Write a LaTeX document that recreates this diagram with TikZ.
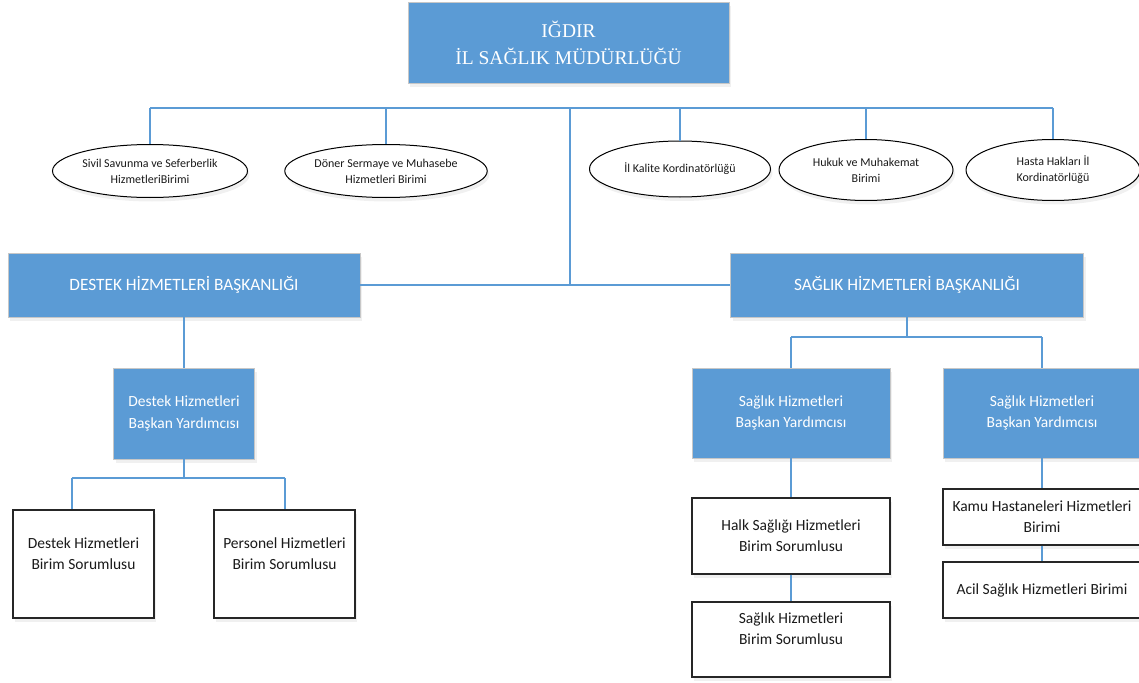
\documentclass[tikz,border=0pt]{standalone}
\usepackage{fontspec}
\setmainfont{Carlito}
\newfontfamily\tnr{Liberation Serif}
\usetikzlibrary{shapes.geometric,shadows}
\definecolor{boxblue}{HTML}{5B9BD5}
\definecolor{linkblue}{HTML}{5B9BD5}
\definecolor{txt}{HTML}{1A1A1A}
\begin{document}
\begin{tikzpicture}[x=1pt,y=-1pt,
  shade/.style={drop shadow={opacity=0.12, shadow xshift=2pt, shadow yshift=-4pt}},
  bluebox/.style={draw=black!22, line width=0.8pt, fill=boxblue, text=white, align=center, inner sep=0pt, shade},
  whitebox/.style={draw=black!85, line width=1.1pt, fill=white, text=txt, align=center, inner sep=0pt, shade,
    font=\fontsize{15.5}{21}\selectfont},
  oval/.style={ellipse, draw=black, line width=1pt, fill=white, text=txt, align=center, inner sep=0pt, shade,
    font=\fontsize{12}{16}\selectfont},
  link/.style={draw=linkblue, line width=1.7pt}
]
\useasboundingbox (0,0) rectangle (1139,682);

% top
\node[bluebox, minimum width=321pt, minimum height=81pt, font=\tnr\fontsize{19.5}{27}\selectfont]
  (top) at (568.5,42.5) {IĞDIR\\İL SAĞLIK MÜDÜRLÜĞÜ};

% ellipses
\node[oval, minimum width=195pt, minimum height=53pt] (e1) at (150,171) {Sivil Savunma ve Seferberlik\\HizmetleriBirimi};
\node[oval, minimum width=197pt, minimum height=53pt] (e2) at (386,171) {Döner Sermaye ve Muhasebe\\Hizmetleri Birimi};
\node[oval, minimum width=181pt, minimum height=56pt] (e3) at (680,169) {İl Kalite Kordinatörlüğü};
\node[oval, minimum width=174pt, minimum height=61pt] (e4) at (866,170) {Hukuk ve Muhakemat\\Birimi};
\node[oval, minimum width=174pt, minimum height=61pt] (e5) at (1053,170) {Hasta Hakları İl\\Kordinatörlüğü};

% departments
\node[bluebox, minimum width=352pt, minimum height=64pt, font=\fontsize{17.3}{20}\selectfont]
  (destek) at (184,285) {DESTEK HİZMETLERİ BAŞKANLIĞI};
\node[bluebox, minimum width=353pt, minimum height=64pt, font=\fontsize{17.3}{20}\selectfont]
  (saglik) at (907,285) {SAĞLIK HİZMETLERİ BAŞKANLIĞI};

% deputies
\node[bluebox, minimum width=141pt, minimum height=91pt, font=\fontsize{15.5}{21.5}\selectfont]
  (dyrd) at (184,413.5) {Destek Hizmetleri\\Başkan Yardımcısı};
\node[bluebox, minimum width=198pt, minimum height=90pt, font=\fontsize{15.5}{21.5}\selectfont]
  (syrd1) at (791,413) {Sağlık Hizmetleri\\Başkan Yardımcısı};
\node[bluebox, minimum width=198pt, minimum height=90pt, font=\fontsize{15.5}{21.5}\selectfont]
  (syrd2) at (1042,413) {Sağlık Hizmetleri\\Başkan Yardımcısı};

% units
\node[whitebox, minimum width=141pt, minimum height=108pt] (d1) at (83.5,564) {Destek Hizmetleri\\Birim Sorumlusu\\[0pt]~};
\node[whitebox, minimum width=141pt, minimum height=108pt] (p1) at (284.5,564) {Personel Hizmetleri\\Birim Sorumlusu\\[0pt]~};
\node[whitebox, minimum width=198pt, minimum height=76pt] (halk) at (791,536) {Halk Sağlığı Hizmetleri\\Birim Sorumlusu};
\node[whitebox, minimum width=198pt, minimum height=75pt] (sbs) at (791,639.5) {Sağlık Hizmetleri\\Birim Sorumlusu\\[0pt]~};
\node[whitebox, minimum width=198pt, minimum height=56pt] (kamu) at (1042,517) {Kamu Hastaneleri Hizmetleri\\Birimi};
\node[whitebox, minimum width=198pt, minimum height=56pt] (acil) at (1042,590) {Acil Sağlık Hizmetleri Birimi};

% bus coordinates
\coordinate (b1) at (150,108);
\coordinate (b2) at (386,108);
\coordinate (bm) at (570,108);
\coordinate (b3) at (680,108);
\coordinate (b4) at (866,108);
\coordinate (b5) at (1053,108);
\coordinate (dj) at (184,478);
\coordinate (dl) at (72,478);
\coordinate (dr) at (285,478);
\coordinate (sj) at (907,337);

\draw[link] (b1) -- (b5);
\draw[link] (b1) -- (e1.north);
\draw[link] (b2) -- (e2.north);
\draw[link] (b3) -- (e3.north);
\draw[link] (b4) -- (e4.north);
\draw[link] (b5) -- (e5.north);
\draw[link] (bm) -- (bm |- destek.east);
\draw[link] (destek.east) -- (saglik.west);

\draw[link] (destek.south) -- (destek.south |- dyrd.north);
\draw[link] (dyrd.south) -- (dj);
\draw[link] (dl) -- (dr);
\draw[link] (dl) -- (dl |- d1.north);
\draw[link] (dr) -- (dr |- p1.north);

\draw[link] (saglik.south) -- (sj);
\draw[link] (syrd1.north |- sj) -- (syrd2.north |- sj);
\draw[link] (syrd1.north |- sj) -- (syrd1.north);
\draw[link] (syrd2.north |- sj) -- (syrd2.north);
\draw[link] (syrd1.south) -- (halk.north);
\draw[link] (halk.south) -- (sbs.north);
\draw[link] (syrd2.south) -- (kamu.north);
\draw[link] (kamu.south) -- (acil.north);
\end{tikzpicture}
\end{document}
